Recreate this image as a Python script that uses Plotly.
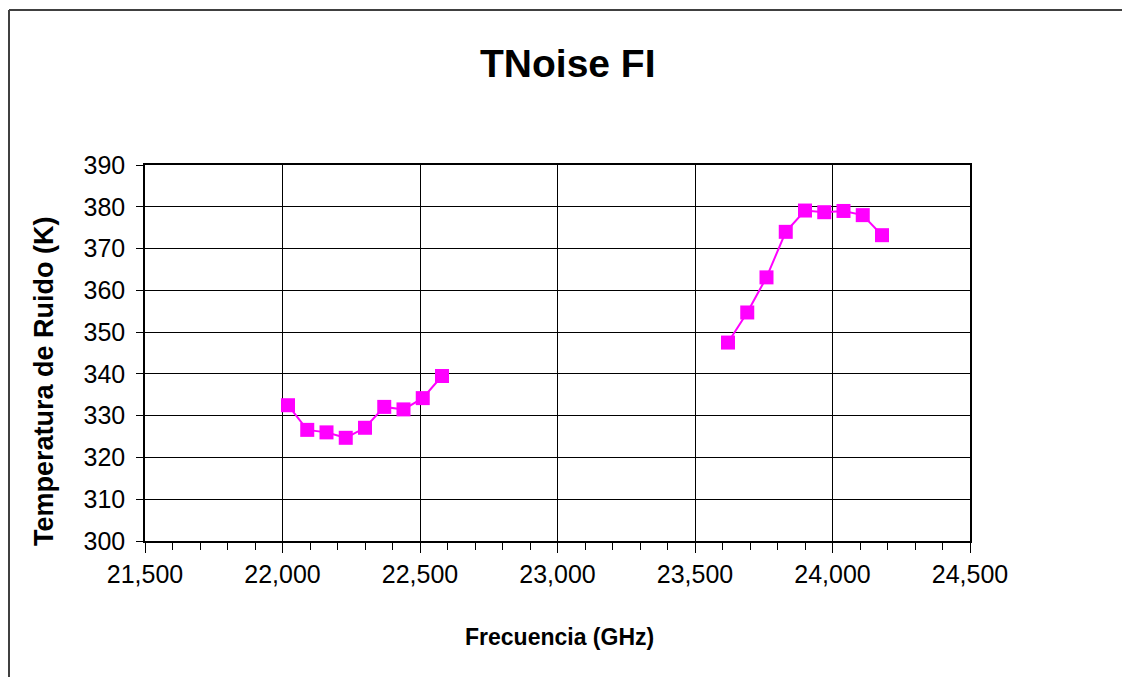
import plotly.graph_objects as go

# frecuencias y temperaturas de ruido, dos bandas
frec_baja = [22020, 22090, 22160, 22230, 22300, 22370, 22440, 22510, 22580]
tnoise_baja = [332.5, 326.6, 326.0, 324.7, 327.1, 332.1, 331.5, 334.2, 339.5]

frec_alta = [23620, 23690, 23760, 23830, 23900, 23970, 24040, 24110, 24180]
tnoise_alta = [347.5, 354.7, 363.1, 374.0, 379.1, 378.7, 379.0, 378.0, 373.2]

x_ticks = [21500, 22000, 22500, 23000, 23500, 24000, 24500]
y_ticks = [300, 310, 320, 330, 340, 350, 360, 370, 380, 390]

magenta = "#FF00FF"
font_fam = "Liberation Sans, Arial, sans-serif"

# area de trazado en pixeles (como en el original)
L, R, T, B = 145, 970, 165, 541
W, H = R - L, B - T

fig = go.Figure()
for fx, fy in [(frec_baja, tnoise_baja), (frec_alta, tnoise_alta)]:
    fig.add_trace(go.Scatter(
        x=fx, y=fy, mode="lines+markers",
        line=dict(color=magenta, width=2),
        marker=dict(symbol="square", size=14, color=magenta),
        showlegend=False,
    ))

fig.update_layout(
    width=1122, height=677,
    margin=dict(l=L, r=1122 - R, t=T, b=677 - B),
    paper_bgcolor="white", plot_bgcolor="white",
    font=dict(family=font_fam, color="black"),
    xaxis=dict(
        range=[21500, 24500], tickvals=x_ticks, tickformat=",d",
        showgrid=True, gridcolor="black", gridwidth=1,
        showline=True, linecolor="black", linewidth=1.5, mirror=True,
        ticks="outside", ticklen=10, tickcolor="black",
        minor=dict(dtick=100, ticks="outside", ticklen=7, tickcolor="black", showgrid=False),
        tickfont=dict(size=25), zeroline=False,
    ),
    yaxis=dict(
        range=[300, 390], tickvals=y_ticks,
        showgrid=True, gridcolor="black", gridwidth=1,
        showline=True, linecolor="black", linewidth=1.5, mirror=True,
        ticks="outside", ticklen=7, tickcolor="black",
        tickfont=dict(size=25), zeroline=False, ticklabelstandoff=6,
    ),
)

# titulos como anotaciones para colocarlos igual que en Excel
titulos = [
    ("<b>TNoise FI</b>", 568, 63, 39, 0),
    ("<b>Frecuencia (GHz)</b>", 559, 637, 23, 0),
    ("<b>Temperatura de Ruido (K)</b>", 44, 381, 27, -90),
]
for txt, px, py, fs, ang in titulos:
    fig.add_annotation(text=txt, xref="paper", yref="paper",
                       x=(px - L) / W, y=(B - py) / H, xanchor="center", yanchor="middle",
                       showarrow=False, textangle=ang, font=dict(size=fs))

# marco exterior del grafico (solo bordes izquierdo y superior visibles)
x_marco, y_marco = (9 - L) / W, (B - 10) / H
fig.add_shape(type="line", xref="paper", yref="paper",
              x0=x_marco, x1=x_marco, y0=-0.6, y1=y_marco,
              line=dict(color="#404040", width=2), layer="below")
fig.add_shape(type="line", xref="paper", yref="paper",
              x0=x_marco, x1=1.4, y0=y_marco, y1=y_marco,
              line=dict(color="#404040", width=2), layer="below")

fig.write_html("out.html", config={"displayModeBar": False},
               post_script="document.body.style.margin='0';document.body.style.overflow='hidden';")
